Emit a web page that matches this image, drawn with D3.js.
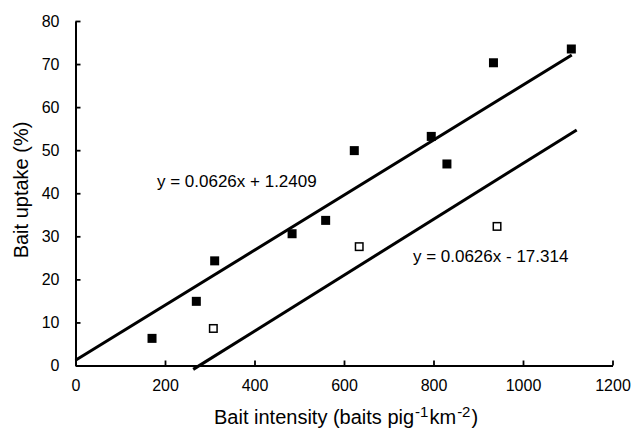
<!DOCTYPE html>
<html>
<head>
<meta charset="utf-8">
<script src="https://cdn.jsdelivr.net/npm/d3@7"></script>
<style>
  html, body { margin: 0; padding: 0; background: #fff; }
  text { font-family: "Liberation Sans", Arial, sans-serif; fill: #000; }
</style>
</head>
<body>
<svg id="chart" width="636" height="433"></svg>
<script>
// ---- data ----
const filledX = [171, 270, 311, 484, 559, 623, 795, 830, 934, 1108];
const filledY = [6.3, 14.9, 24.3, 30.6, 33.7, 49.9, 53.2, 46.8, 70.3, 73.5];
const openX = [308, 634, 942];
const openY = [8.6, 27.6, 32.3];
const xTicks = [0, 200, 400, 600, 800, 1000, 1200];
const yTicks = [0, 10, 20, 30, 40, 50, 60, 70, 80];
// fitted lines: end points as drawn in the reference
const fitStartX = [0, 263];
const fitStartY = [1.2, -0.9];
const fitEndX = [1109, 1120];
const fitEndY = [72.1, 54.7];
const fitLabels = ["y = 0.0626x + 1.2409", "y = 0.0626x - 17.314"];
const fitLabelX = [182, 754];
const fitLabelY = [41.5, 24.1];

const svg = d3.select("#chart");
svg.append("rect").attr("width", 636).attr("height", 433).attr("fill", "#fff");

const x = d3.scaleLinear().domain([0, 1200]).range([75.5, 612.5]);
const y = d3.scaleLinear().domain([0, 80]).range([365.5, 21]);

// axes
const xAxis = d3.axisBottom(x).tickValues(xTicks).tickFormat(d3.format("d"))
  .tickSizeInner(-5).tickSizeOuter(0).tickPadding(14);
const yAxis = d3.axisLeft(y).tickValues(yTicks).tickFormat(d3.format("d"))
  .tickSizeInner(-5).tickSizeOuter(0).tickPadding(16);

const gx = svg.append("g").attr("transform", `translate(0,${y(0)})`).call(xAxis);
const gy = svg.append("g").attr("transform", `translate(${x(0)},0)`).call(yAxis);
[gx, gy].forEach(g => {
  g.select(".domain").attr("stroke", "#000").attr("stroke-width", 2);
  g.selectAll(".tick line").attr("stroke", "#000").attr("stroke-width", 1.8);
  g.selectAll(".tick text").style("font-family", '"Liberation Sans", Arial, sans-serif')
    .style("font-size", "16px").attr("fill", "#000");
});

// regression lines
const line = d3.line().x(d => x(d[0])).y(d => y(d[1]));
fitStartX.forEach((v, i) => {
  const pts = [[v, fitStartY[i]], [fitEndX[i], fitEndY[i]]];
  svg.append("path").attr("d", line(pts)).attr("fill", "none")
    .attr("stroke", "#000").attr("stroke-width", 3);
});

// points
const s = 9;
svg.append("g").selectAll("rect").data(filledX.map((v, i) => [v, filledY[i]])).join("rect")
  .attr("x", d => x(d[0]) - s / 2).attr("y", d => y(d[1]) - s / 2)
  .attr("width", s).attr("height", s).attr("fill", "#000");
svg.append("g").selectAll("rect").data(openX.map((v, i) => [v, openY[i]])).join("rect")
  .attr("x", d => x(d[0]) - s / 2 + 0.75).attr("y", d => y(d[1]) - s / 2 + 0.75)
  .attr("width", s - 1.5).attr("height", s - 1.5).attr("fill", "#fff")
  .attr("stroke", "#000").attr("stroke-width", 1.5);

// equation labels
fitLabels.forEach((t, i) => {
  svg.append("text").attr("x", x(fitLabelX[i])).attr("y", y(fitLabelY[i]))
    .style("font-size", "17px").text(t);
});

// axis titles
svg.append("text").attr("transform", "translate(27.5,190) rotate(-90)")
  .attr("text-anchor", "middle").style("font-size", "20px").text("Bait uptake (%)");

const xt = svg.append("text").attr("x", 214).attr("y", 424)
  .attr("text-anchor", "start").style("font-size", "20px");
xt.append("tspan").text("Bait intensity (baits pig");
xt.append("tspan").attr("dx", 1).attr("dy", -7).style("font-size", "15px").text("-1");
xt.append("tspan").attr("dx", 1).attr("dy", 7).text("km");
xt.append("tspan").attr("dx", 1).attr("dy", -7).style("font-size", "15px").text("-2");
xt.append("tspan").attr("dx", 1).attr("dy", 7).text(")");
</script>
</body>
</html>
